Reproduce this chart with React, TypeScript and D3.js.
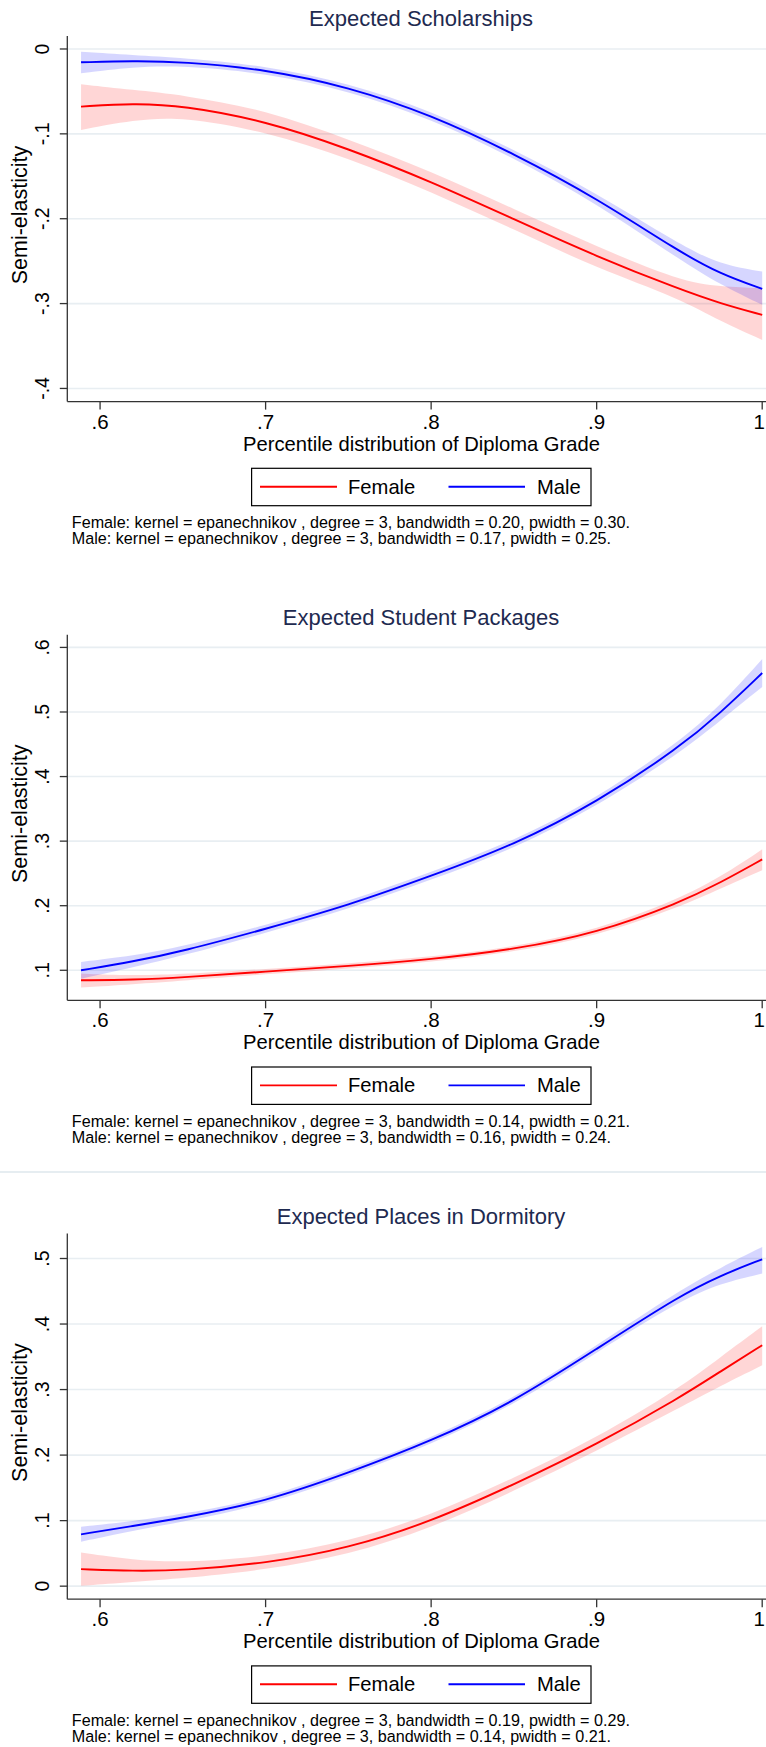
import React from 'react';
import * as d3 from 'd3';

// ---------- DATA ----------
const xGrid = [0.5885, 0.62, 0.65, 0.70, 0.75, 0.80, 0.85, 0.90, 0.95, 0.975, 1.0];

const xTicks = [0.6, 0.7, 0.8, 0.9, 1.0];
const xTickLabels = ['.6', '.7', '.8', '.9', '1'];

const panelTitles = ['Expected Scholarships', 'Expected Student Packages', 'Expected Places in Dormitory'];

// Panel 1: Expected Scholarships
const p1MaleMean = [-0.0157, -0.0141, -0.0150, -0.0240, -0.0446, -0.0777, -0.1233, -0.1759, -0.2391, -0.2654, -0.2827];
const p1MaleLo = [-0.0286, -0.0211, -0.0195, -0.0285, -0.0491, -0.0827, -0.1283, -0.1819, -0.2481, -0.2780, -0.3015];
const p1MaleHi = [-0.0032, -0.0071, -0.0105, -0.0195, -0.0401, -0.0727, -0.1183, -0.1699, -0.2301, -0.2544, -0.2623];
const p1FemMean = [-0.0679, -0.0640, -0.0667, -0.0848, -0.1174, -0.1563, -0.2006, -0.2446, -0.2831, -0.3000, -0.3133];
const p1FemLo = [-0.0954, -0.0836, -0.0797, -0.0974, -0.1284, -0.1683, -0.2126, -0.2584, -0.2937, -0.3212, -0.3428];
const p1FemHi = [-0.0416, -0.0483, -0.0542, -0.0718, -0.1064, -0.1443, -0.1886, -0.2328, -0.2733, -0.2800, -0.2819];
const p1YTicks = [0, -0.1, -0.2, -0.3, -0.4];
const p1YTickLabels = ['0', '-.1', '-.2', '-.3', '-.4'];

// Panel 2: Expected Student Packages
const p2MaleMean = [0.1000, 0.1135, 0.1295, 0.1640, 0.2005, 0.2460, 0.2940, 0.3600, 0.4450, 0.4990, 0.5603];
const p2MaleLo = [0.0870, 0.1045, 0.1225, 0.1580, 0.1945, 0.2400, 0.2880, 0.3535, 0.4360, 0.4870, 0.5386];
const p2MaleHi = [0.1130, 0.1225, 0.1365, 0.1700, 0.2065, 0.2520, 0.3000, 0.3665, 0.4540, 0.5110, 0.5820];
const p2FemMean = [0.0845, 0.0851, 0.0888, 0.0980, 0.1066, 0.1168, 0.1322, 0.1575, 0.2044, 0.2360, 0.2717];
const p2FemLo = [0.0732, 0.0785, 0.0838, 0.0940, 0.1026, 0.1128, 0.1282, 0.1530, 0.1979, 0.2270, 0.2551];
const p2FemHi = [0.0949, 0.0917, 0.0938, 0.1020, 0.1106, 0.1208, 0.1362, 0.1620, 0.2109, 0.2450, 0.2873];
const p2YTicks = [0.1, 0.2, 0.3, 0.4, 0.5, 0.6];
const p2YTickLabels = ['.1', '.2', '.3', '.4', '.5', '.6'];

// Panel 3: Expected Places in Dormitory
const p3MaleMean = [0.0791, 0.0919, 0.1041, 0.1290, 0.1729, 0.2212, 0.2811, 0.3622, 0.4431, 0.4743, 0.4988];
const p3MaleLo = [0.0678, 0.0849, 0.0981, 0.1240, 0.1679, 0.2162, 0.2761, 0.3567, 0.4351, 0.4623, 0.4770];
const p3MaleHi = [0.0908, 0.0989, 0.1101, 0.1340, 0.1779, 0.2262, 0.2861, 0.3677, 0.4511, 0.4863, 0.5177];
const p3FemMean = [0.0260, 0.0230, 0.0240, 0.0347, 0.0577, 0.0984, 0.1550, 0.2163, 0.2872, 0.3280, 0.3677];
const p3FemLo = [0.0005, 0.0065, 0.0120, 0.0247, 0.0477, 0.0884, 0.1450, 0.2063, 0.2722, 0.3060, 0.3371];
const p3FemHi = [0.0515, 0.0400, 0.0360, 0.0447, 0.0677, 0.1084, 0.1650, 0.2263, 0.3022, 0.3500, 0.3968];
const p3YTicks = [0, 0.1, 0.2, 0.3, 0.4, 0.5];
const p3YTickLabels = ['0', '.1', '.2', '.3', '.4', '.5'];

const notes = [
  ['Female: kernel = epanechnikov , degree = 3, bandwidth = 0.20, pwidth = 0.30.',
   'Male: kernel = epanechnikov , degree = 3, bandwidth = 0.17, pwidth = 0.25.'],
  ['Female: kernel = epanechnikov , degree = 3, bandwidth = 0.14, pwidth = 0.21.',
   'Male: kernel = epanechnikov , degree = 3, bandwidth = 0.16, pwidth = 0.24.'],
  ['Female: kernel = epanechnikov , degree = 3, bandwidth = 0.19, pwidth = 0.29.',
   'Male: kernel = epanechnikov , degree = 3, bandwidth = 0.14, pwidth = 0.21.'],
];

const seriesNames = ['Female', 'Male'];
const xAxisTitle = 'Percentile distribution of Diploma Grade';
const yAxisTitle = 'Semi-elasticity';

// ---------- LAYOUT ----------
const W = 766;
const H = 1747;
const FONT = "'Liberation Sans', Arial, Helvetica, sans-serif";
const RED = '#ff0000';
const BLUE = '#0000ff';
const GRID = '#e8eef2';
const AXIS = '#333333';
const TITLE_COLOR = '#1e2a50';

const panelOffsets = [0, 598.7, 1197.6];
const plotTop = 36;
const plotBottom = 401.6;
const axisX = 67.3;

const panels = [
  { title: panelTitles[0], yDomain: [-0.4155, 0.0153], yTicks: p1YTicks, yLabels: p1YTickLabels,
    male: { mean: p1MaleMean, lo: p1MaleLo, hi: p1MaleHi }, fem: { mean: p1FemMean, lo: p1FemLo, hi: p1FemHi }, notes: notes[0] },
  { title: panelTitles[1], yDomain: [0.0535, 0.6197], yTicks: p2YTicks, yLabels: p2YTickLabels,
    male: { mean: p2MaleMean, lo: p2MaleLo, hi: p2MaleHi }, fem: { mean: p2FemMean, lo: p2FemLo, hi: p2FemHi }, notes: notes[1] },
  { title: panelTitles[2], yDomain: [-0.0199, 0.538], yTicks: p3YTicks, yLabels: p3YTickLabels,
    male: { mean: p3MaleMean, lo: p3MaleLo, hi: p3MaleHi }, fem: { mean: p3FemMean, lo: p3FemLo, hi: p3FemHi }, notes: notes[2] },
];

const xScale = d3.scaleLinear().domain([0.5802, 1.0]).range([axisX, 762.2]);

function Panel({ p, offset }: { p: any; offset: number }) {
  const yScale = d3.scaleLinear().domain(p.yDomain).range([plotBottom, plotTop]);
  const curve = d3.curveBasis;
  const line = d3.line<number>().x((_, i) => xScale(xGrid[i])).y((d) => yScale(d)).curve(curve);
  const area = (lo: number[], hi: number[]) =>
    d3.area<number>().x((_, i) => xScale(xGrid[i])).y0((_, i) => yScale(lo[i])).y1((_, i) => yScale(hi[i])).curve(curve)(lo) || '';

  const yTitleY = 215;
  return (
    <g transform={`translate(0,${offset})`}>
      <text x={421} y={26} textAnchor="middle" fontFamily={FONT} fontSize={22} fill={TITLE_COLOR}>{p.title}</text>
      {/* gridlines */}
      {p.yTicks.map((t: number, i: number) => (
        <line key={'g' + i} x1={axisX} x2={W} y1={yScale(t)} y2={yScale(t)} stroke={GRID} strokeWidth={1.6} />
      ))}
      {/* bands */}
      <path d={area(p.fem.lo, p.fem.hi)} fill={RED} fillOpacity={0.16} stroke="none" />
      <path d={area(p.male.lo, p.male.hi)} fill={BLUE} fillOpacity={0.16} stroke="none" />
      {/* lines */}
      <path d={line(p.fem.mean) || ''} fill="none" stroke={RED} strokeWidth={1.9} />
      <path d={line(p.male.mean) || ''} fill="none" stroke={BLUE} strokeWidth={1.9} />
      {/* y axis */}
      <line x1={axisX} x2={axisX} y1={plotTop} y2={plotBottom} stroke={AXIS} strokeWidth={1.3} />
      {p.yTicks.map((t: number, i: number) => (
        <g key={'yt' + i}>
          <line x1={axisX - 7.5} x2={axisX} y1={yScale(t)} y2={yScale(t)} stroke={AXIS} strokeWidth={1.3} />
          <text transform={`translate(49,${yScale(t)}) rotate(-90)`} textAnchor="middle" fontFamily={FONT} fontSize={19.5} fill="#000">{p.yLabels[i]}</text>
        </g>
      ))}
      <text transform={`translate(27,${yTitleY}) rotate(-90)`} textAnchor="middle" fontFamily={FONT} fontSize={21.5} fill="#000">{yAxisTitle}</text>
      {/* x axis */}
      <line x1={axisX} x2={W} y1={plotBottom} y2={plotBottom} stroke={AXIS} strokeWidth={1.3} />
      {xTicks.map((t, i) => {
        const last = i === xTicks.length - 1;
        return (
          <g key={'xt' + i}>
            <line x1={xScale(t)} x2={xScale(t)} y1={plotBottom} y2={plotBottom + 8} stroke={AXIS} strokeWidth={1.3} />
            <text x={last ? W - 1 : xScale(t)} y={428.5} textAnchor={last ? 'end' : 'middle'} fontFamily={FONT} fontSize={20.5} fill="#000">{xTickLabels[i]}</text>
          </g>
        );
      })}
      <text x={421.5} y={450.7} textAnchor="middle" fontFamily={FONT} fontSize={20.2} fill="#000">{xAxisTitle}</text>
      {/* legend */}
      <rect x={251.6} y={468.3} width={339.4} height={37.4} fill="#fff" stroke="#000" strokeWidth={1.2} />
      <line x1={260} x2={337} y1={486.7} y2={486.7} stroke={RED} strokeWidth={1.9} />
      <text x={348} y={493.8} fontFamily={FONT} fontSize={20.2} fill="#000">{seriesNames[0]}</text>
      <line x1={448.5} x2={525} y1={486.7} y2={486.7} stroke={BLUE} strokeWidth={1.9} />
      <text x={537} y={493.8} fontFamily={FONT} fontSize={20.2} fill="#000">{seriesNames[1]}</text>
      {/* notes */}
      <text x={71.8} y={528.3} fontFamily={FONT} fontSize={16.15} fill="#000">{p.notes[0]}</text>
      <text x={71.8} y={544.3} fontFamily={FONT} fontSize={16.15} fill="#000">{p.notes[1]}</text>
    </g>
  );
}

export default function App() {
  return (
    <svg width={W} height={H} style={{ position: 'absolute', left: 0, top: 0, background: '#fff' }}>
      <rect x={0} y={0} width={W} height={H} fill="#fff" />
      <line x1={0} x2={W} y1={1172} y2={1172} stroke="#e6edf1" strokeWidth={2} />
      {panels.map((p, i) => (
        <Panel key={i} p={p} offset={panelOffsets[i]} />
      ))}
    </svg>
  );
}
